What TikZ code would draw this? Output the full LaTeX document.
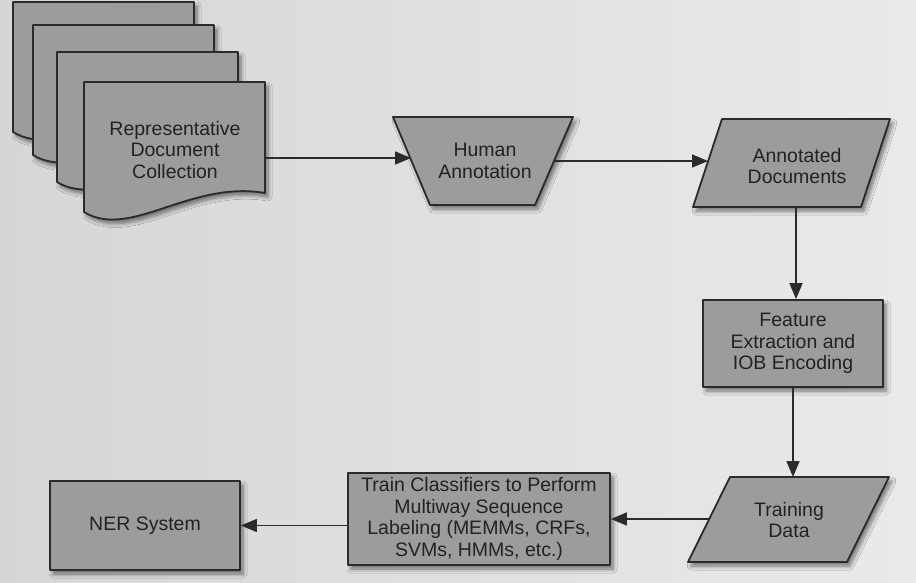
\documentclass[tikz,border=0pt]{standalone}
\usepackage{fontspec}
\setmainfont{Liberation Sans}
\usetikzlibrary{arrows.meta,shadows.blur}
\definecolor{boxfill}{HTML}{9C9C9C}
\definecolor{edge}{HTML}{2B2B2B}
\definecolor{ink}{HTML}{222222}
\definecolor{pageL}{HTML}{D6D6D6}
\definecolor{pageR}{HTML}{EAEAEA}
\begin{document}
\begin{tikzpicture}[x=1pt,y=-1pt,
  shp/.style={fill=boxfill,draw=edge,line width=1.8pt,line join=round,
    blur shadow={shadow xshift=3pt,shadow yshift=-4pt,shadow blur radius=4pt,shadow blur steps=6,shadow opacity=50}},
  lbl/.style={align=center,text=ink,font=\fontsize{19.5}{21.5}\selectfont,inner sep=0pt},
  conn/.style={draw=edge,line width=1.6pt,-{Triangle[length=16pt,width=13pt]}}]
\useasboundingbox (0,0) rectangle (916,582);
\clip (0,0) rectangle (916,582);
\shade[left color=pageL,right color=pageR] (0,0) rectangle (916,582);

% document stack
\foreach \dx/\dy in {-71/-80,-51/-57,-27/-30,0/0}{
  \begin{scope}[shift={(\dx,\dy)}]
    \path[shp] (84,82) -- (265,82) -- (265,193)
      .. controls (190,180) and (130,240) .. (84,212) -- cycle;
  \end{scope}
}
\node[lbl] (rdc) at (175,150) {Representative\\Document\\Collection};
\coordinate (rdcE) at (265,158);

% Human Annotation (trapezoid)
\path[shp] (393,117) -- (573,117) -- (535,205) -- (430,205) -- cycle;
\node[lbl] (ha) at (485,161) {Human\\Annotation};
\coordinate (haW) at (411,158);
\coordinate (haE) at (554,161);

% Annotated Documents (parallelogram)
\path[shp] (722,119) -- (890,119) -- (861,207) -- (693,207) -- cycle;
\node[lbl] (ad) at (797,166) {Annotated\\Documents};
\coordinate (adW) at (708,161);
\coordinate (adS) at (796,207);

% Feature Extraction
\node[shp,lbl,minimum width=180pt,minimum height=87pt] (feat) at (793,343.5)
  {Feature\\Extraction and\\IOB Encoding};

% Training Data (parallelogram)
\path[shp] (730,477) -- (889,477) -- (847,562) -- (688,562) -- cycle;
\node[lbl] (td) at (789,520) {Training\\Data};
\coordinate (tdN) at (790,477);
\coordinate (tdW) at (709,519);

% Train classifiers
\node[shp,lbl,minimum width=262pt,minimum height=92pt] (train) at (479,519)
  {Train Classifiers to Perform\\Multiway Sequence\\Labeling (MEMMs, CRFs,\\SVMs, HMMs, etc.)};

% NER System
\node[shp,lbl,minimum width=190pt,minimum height=89pt] (ner) at (145,525.5) {NER System};

% connectors
\draw[conn] (rdcE) -- (haW);
\draw[conn] (haE) -- (adW);
\draw[conn] (adS) -- (adS |- feat.north);
\draw[conn] (feat.south) -- (feat.south |- tdN);
\draw[conn] (tdW) -- (tdW -| train.east);
\draw[conn] (train.west |- ner.east) -- (ner.east);
\end{tikzpicture}
\end{document}
